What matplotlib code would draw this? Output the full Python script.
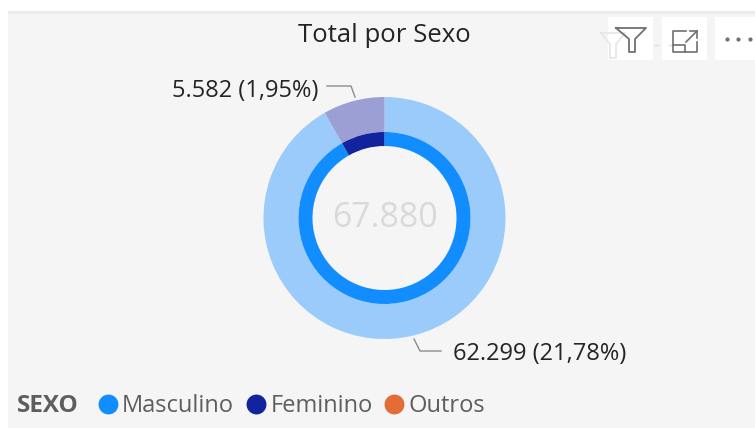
import matplotlib
matplotlib.use('Agg')
import matplotlib.pyplot as plt
from matplotlib.patches import Rectangle

plt.rcParams['font.family'] = ['Open Sans', 'DejaVu Sans']

# Data
categories = ['Masculino', 'Feminino', 'Outros']
outer_values = [62299, 5582]
inner_values = [62299, 5582]
center_label = '67.880'
slice_labels = ['62.299 (21,78%)', '5.582 (1,95%)']

colors = ['#118DFF', '#12239E', '#E66C37']
outer_colors = ['#9BCBFA', '#9C9FD3']

W, H = 755, 428
fig = plt.figure(figsize=(W / 100, H / 100), dpi=100, facecolor='white')
ax = fig.add_axes([0, 0, 1, 1])


# y measured from the top, like in the picture
def py(y):
    return H - y


cx, cy = 384.5, py(218)

ax.pie(outer_values, colors=outer_colors, startangle=90, counterclock=False,
       center=(cx, cy), radius=121, frame=True,
       wedgeprops=dict(width=121 - 86, linewidth=0))
ax.pie(inner_values, colors=colors[:2], startangle=90, counterclock=False,
       center=(cx, cy), radius=86, frame=True,
       wedgeprops=dict(width=14, linewidth=0))

ax.set_xlim(0, W)
ax.set_ylim(0, H)
ax.set_aspect('auto')
ax.axis('off')

# Panel background
ax.add_patch(Rectangle((8, 0), W - 8, H - 11, color='#F5F5F5', zorder=0, lw=0))
ax.add_patch(Rectangle((8, py(14)), W - 8, 3, color='#EBEBEB', zorder=0, lw=0))

# Title and centre value
ax.text(384.5, py(35), 'Total por Sexo', ha='center', va='center', fontsize=18.5, color='#252423')
ax.text(385, py(218), center_label, ha='center', va='center', fontsize=24.3, color='#D9D9D9')

# Slice labels and leader lines
ax.text(626, py(354), slice_labels[0], ha='right', va='center', fontsize=17, color='#252423')
ax.text(318, py(91), slice_labels[1], ha='right', va='center', fontsize=17, color='#252423')
ax.plot([414, 420, 441], [py(339), py(351), py(351)], color='#8C8C8C', lw=1)
ax.plot([327, 351, 355], [py(86), py(86), py(97)], color='#8C8C8C', lw=1)

# Legend
ax.text(17, py(406), 'SEXO', ha='left', va='center', fontsize=17.5, fontweight='bold', color='#605E5C')
legend_x = [(108, 122), (256, 271), (394, 409)]
for (dot_x, text_x), name, c in zip(legend_x, categories, colors):
    ax.scatter([dot_x], [py(404)], s=205, color=c, linewidths=0, zorder=3)
    ax.text(text_x, py(406), name, ha='left', va='center', fontsize=17, color='#605E5C', zorder=4)

# Header icons
for x0, w in [(608, 45), (662, 45), (715, 40)]:
    ax.add_patch(Rectangle((x0, py(60)), w, 43, color='white', zorder=1, lw=0))
ax.plot([601, 625, 616, 616, 610, 610, 601], [py(33), py(33), py(44), py(58), py(58), py(44), py(33)],
        color='#E6E6E6', lw=1.2, zorder=1.5)
ax.plot([655, 658], [py(45), py(45)], color='#DDDDDD', lw=1, zorder=1.5)
ax.plot([669, 673], [py(45), py(45)], color='#DDDDDD', lw=1, zorder=1.5)
ax.plot([616, 646, 635, 635, 629, 629, 616], [py(28), py(28), py(39), py(52), py(52), py(39), py(28)],
        color='#707070', lw=1.3, zorder=2)
ax.plot([686, 673, 673, 697, 697], [py(31), py(31), py(52), py(52), py(42)], color='#707070', lw=1.2, zorder=2)
ax.plot([673, 685, 685], [py(45), py(45), py(52)], color='#707070', lw=1.2, zorder=2)
ax.plot([686, 697], [py(42), py(31)], color='#707070', lw=1.2, zorder=2)
ax.plot([690, 697, 697], [py(31), py(31), py(38)], color='#707070', lw=1.2, zorder=2)
ax.scatter([727, 738, 750], [py(39)] * 3, s=9, color='#707070', linewidths=0, zorder=2)

fig.savefig('out.png', dpi=100)
